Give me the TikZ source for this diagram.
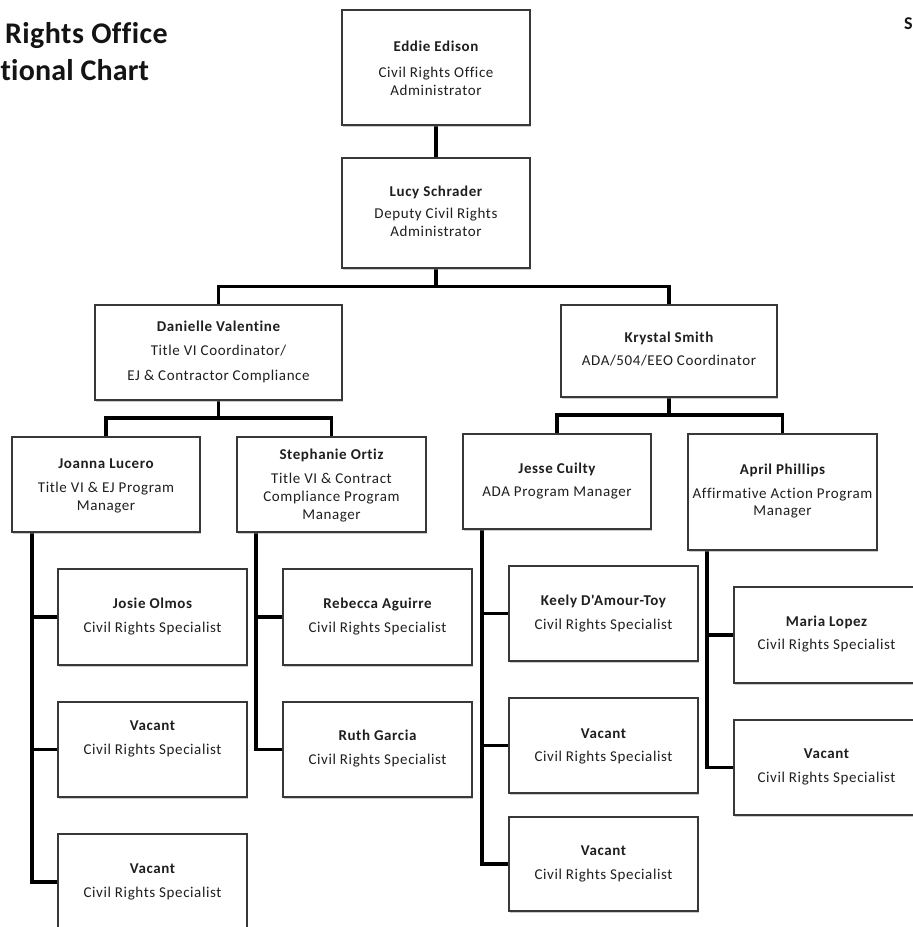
\documentclass[tikz,border=0pt]{standalone}
\usepackage{fontspec}
\setmainfont{Carlito}
\newfontfamily\boxfont[LetterSpace=4,Ligatures=NoCommon]{Carlito}
\newfontfamily\headfont[LetterSpace=1.5,Ligatures=NoCommon]{Carlito}
\newfontfamily\subheadfont[LetterSpace=0.5,Ligatures=NoCommon]{Carlito}
\usetikzlibrary{fit,backgrounds,shadows}
\tikzset{
  obox/.style={draw=black!78, line width=1.1pt, fill=white, inner sep=0pt, outer sep=0pt,
    drop shadow={shadow xshift=1.2pt, shadow yshift=-1.6pt, fill=black!45, opacity=0.45}},
  nm/.style={anchor=mid, yshift=-2.5pt, inner sep=0pt, font=\boxfont\fontsize{15}{17}\selectfont\bfseries, text=black!88},
  tl/.style={anchor=mid, yshift=-2.5pt, inner sep=0pt, font=\boxfont\fontsize{15}{17}\selectfont, text=black!88},
  conn/.style={line width=3.3pt, draw=black, line join=miter},
  ttl/.style={inner sep=0pt, font=\headfont\fontsize{30}{32}\selectfont\bfseries, text=black!92}
}
\begin{document}
\begin{tikzpicture}[x=1pt,y=-1pt]
\useasboundingbox (0,0) rectangle (913,927);
\clip (0,0) rectangle (913,927);
% titles
\node[ttl, anchor=base east] (title1) at (168,43.3) {Rights Office};
\node[ttl, anchor=base west, font=\subheadfont\fontsize{30}{32}\selectfont\bfseries] (title2) at (0.5,80) {tional Chart};
\node[inner sep=0pt, anchor=base west, font=\headfont\fontsize{18}{19}\selectfont\bfseries, text=black!92] (corner) at (904,29.5) {S};
% boxes
\node[obox, fit={(342,10)(530,125)}] (eddie) {};
\node[obox, fit={(342,158)(530,268)}] (lucy) {};
\node[obox, fit={(95,305)(342,400)}] (danielle) {};
\node[obox, fit={(561,305)(777,397)}] (krystal) {};
\node[obox, fit={(12,437)(200,532)}] (joanna) {};
\node[obox, fit={(237,437)(426,532)}] (stephanie) {};
\node[obox, fit={(463,434)(651,529)}] (jesse) {};
\node[obox, fit={(688,434)(877,550)}] (april) {};
\node[obox, fit={(58,569)(247,665)}] (josie) {};
\node[obox, fit={(58,702)(247,797)}] (vaca) {};
\node[obox, fit={(58,834)(247,930)}] (vacb) {};
\node[obox, fit={(283,569)(472,665)}] (rebecca) {};
\node[obox, fit={(283,702)(472,797)}] (ruth) {};
\node[obox, fit={(509,566)(698,661)}] (keely) {};
\node[obox, fit={(509,698)(698,793)}] (vacc) {};
\node[obox, fit={(509,817)(698,911)}] (vacd) {};
\node[obox, fit={(734,587)(920,683)}] (maria) {};
\node[obox, fit={(734,720)(920,815)}] (vace) {};
% connectors
\begin{pgfonlayer}{background}
\draw[conn] (eddie.south) -- (lucy.north);
\draw[conn] (lucy.south) -- ++(0,18.5) -| (danielle.north);
\draw[conn] (lucy.south) -- ++(0,18.5) -| (krystal.north);
\draw[conn] (danielle.south) -- ++(0,18) -| (joanna.north);
\draw[conn] (danielle.south) -- ++(0,18) -| (stephanie.north);
\draw[conn] (krystal.south) -- ++(0,18) -| (jesse.north);
\draw[conn] (krystal.south) -- ++(0,18) -| (april.north);
\coordinate (jtop) at ([xshift=20pt]joanna.south west);
\draw[conn] (jtop) |- (vacb.west);
\draw[conn] (josie.west) -- (josie.west -| jtop);
\draw[conn] (vaca.west) -- (vaca.west -| jtop);
\coordinate (stop) at ([xshift=19pt]stephanie.south west);
\draw[conn] (stop) |- (ruth.west);
\draw[conn] (rebecca.west) -- (rebecca.west -| stop);
\coordinate (etop) at ([xshift=19pt]jesse.south west);
\draw[conn] (etop) |- (vacd.west);
\draw[conn] (keely.west) -- (keely.west -| etop);
\draw[conn] (vacc.west) -- (vacc.west -| etop);
\coordinate (atop) at ([xshift=19pt]april.south west);
\draw[conn] (atop) |- (vace.west);
\draw[conn] (maria.west) -- (maria.west -| atop);
\end{pgfonlayer}
% texts
\node[nm] (eddie1) at (436,47) {Eddie Edison};
\node[tl] (eddie2) at (436,73) {Civil Rights Office};
\node[tl] (eddie3) at (436,91) {Administrator};
\node[nm] (lucy1) at (436,192) {Lucy Schrader};
\node[tl] (lucy2) at (436,214) {Deputy Civil Rights};
\node[tl] (lucy3) at (436,232) {Administrator};
\node[nm] (dan1) at (218.5,327) {Danielle Valentine};
\node[tl] (dan2) at (218.5,351) {Title VI Coordinator/};
\node[tl] (dan3) at (218.5,376) {EJ \& Contractor Compliance};
\node[nm] (kry1) at (669,337.5) {Krystal Smith};
\node[tl] (kry2) at (669,361) {ADA/504/EEO Coordinator};
\node[nm] (joa1) at (106,464) {Joanna Lucero};
\node[tl] (joa2) at (106,488) {Title VI \& EJ Program};
\node[tl] (joa3) at (106,505.5) {Manager};
\node[nm] (ste1) at (331.5,455) {Stephanie Ortiz};
\node[tl] (ste2) at (331.5,479) {Title VI \& Contract};
\node[tl] (ste3) at (331.5,497) {Compliance Program};
\node[tl] (ste4) at (331.5,514.5) {Manager};
\node[nm] (jes1) at (557,469) {Jesse Cuilty};
\node[tl] (jes2) at (557,492) {ADA Program Manager};
\node[nm] (apr1) at (782.5,470) {April Phillips};
\node[tl] (apr2) at (782.5,493.5) {Affirmative Action Program};
\node[tl] (apr3) at (782.5,511) {Manager};
\node[nm] (jos1) at (152.5,603.5) {Josie Olmos};
\node[tl] (jos2) at (152.5,627.5) {Civil Rights Specialist};
\node[nm] (vaa1) at (152.5,726) {Vacant};
\node[tl] (vaa2) at (152.5,749.5) {Civil Rights Specialist};
\node[nm] (vab1) at (152.5,869) {Vacant};
\node[tl] (vab2) at (152.5,892.5) {Civil Rights Specialist};
\node[nm] (reb1) at (377.5,603.5) {Rebecca Aguirre};
\node[tl] (reb2) at (377.5,627.5) {Civil Rights Specialist};
\node[nm] (rut1) at (377.5,736) {Ruth Garcia};
\node[tl] (rut2) at (377.5,760) {Civil Rights Specialist};
\node[nm] (kee1) at (603.5,601) {Keely D'Amour-Toy};
\node[tl] (kee2) at (603.5,624.5) {Civil Rights Specialist};
\node[nm] (vac1) at (603.5,733.5) {Vacant};
\node[tl] (vac2) at (603.5,757) {Civil Rights Specialist};
\node[nm] (vad1) at (603.5,851) {Vacant};
\node[tl] (vad2) at (603.5,874.5) {Civil Rights Specialist};
\node[nm] (mar1) at (826.5,622) {Maria Lopez};
\node[tl] (mar2) at (826.5,645) {Civil Rights Specialist};
\node[nm] (vae1) at (826.5,754) {Vacant};
\node[tl] (vae2) at (826.5,777.5) {Civil Rights Specialist};
\end{tikzpicture}
\end{document}
